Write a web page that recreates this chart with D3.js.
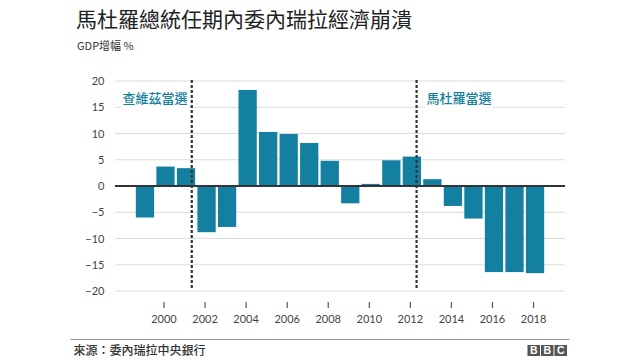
<!DOCTYPE html>
<html>
<head>
<meta charset="utf-8">
<script src="https://cdn.jsdelivr.net/npm/d3@7"></script>
<style>
  html, body { margin: 0; padding: 0; background: #fff; }
  svg { display: block; }
</style>
</head>
<body>
<svg id="chart" width="640" height="360"></svg>
<script>
// ---- data ----
const years = [1999, 2000, 2001, 2002, 2003, 2004, 2005, 2006, 2007, 2008,
               2009, 2010, 2011, 2012, 2013, 2014, 2015, 2016, 2017, 2018];
const gdpGrowth = [-6.0, 3.7, 3.4, -8.8, -7.8, 18.3, 10.3, 9.9, 8.2, 4.8,
                   -3.3, 0.4, 4.9, 5.6, 1.3, -3.8, -6.2, -16.4, -16.4, -16.6];
const yTicks = [20, 15, 10, 5, 0, -5, -10, -15, -20];
const xTickYears = [2000, 2002, 2004, 2006, 2008, 2010, 2012, 2014, 2016, 2018];
const markerYears = [2001.28, 2012.23];
const markerLabels = ["查維茲當選", "馬杜羅當選"];
const title = "馬杜羅總統任期內委內瑞拉經濟崩潰";
const subtitle = "GDP增幅 %";
const source = "來源：委內瑞拉中央銀行";

// ---- layout ----
const svg = d3.select("#chart");
const cjk = "'Noto Sans CJK TC', 'Noto Sans', sans-serif";
const num = "Lato, 'Open Sans', sans-serif";
const teal = "#1380A1";
const gridL = 115, gridR = 565;

const x = d3.scaleBand().domain(years).range([134.7, 545.3])
  .paddingInner(0.11).paddingOuter(0.055);
const y = d3.scaleLinear().domain([-20, 20]).range([291, 81]);
const xPos = d3.scaleLinear().domain([years[0], years[years.length - 1]])
  .range([x(years[0]) + x.bandwidth() / 2, x(years[years.length - 1]) + x.bandwidth() / 2]);

svg.append("rect").attr("width", 640).attr("height", 360).attr("fill", "#fff");

// title & subtitle
svg.append("text").attr("x", 76).attr("y", 27)
  .attr("font-family", cjk).attr("font-size", 21).attr("fill", "#222")
  .text(title);
svg.append("text").attr("x", 77).attr("y", 50)
  .attr("font-family", cjk).attr("font-size", 11).attr("fill", "#333")
  .text(subtitle);

// gridlines
svg.append("g").selectAll("line").data(yTicks.filter(d => d !== 0)).join("line")
  .attr("x1", gridL).attr("x2", gridR)
  .attr("y1", d => y(d)).attr("y2", d => y(d))
  .attr("stroke", "#dcdcdc").attr("stroke-width", 1);

// y axis labels
const yAxis = d3.axisLeft(y).tickValues(yTicks).tickSize(0).tickPadding(0)
  .tickFormat(d3.format("d"));
const yg = svg.append("g").attr("transform", "translate(104.5,0)").call(yAxis);
yg.select(".domain").remove();
yg.selectAll("text").attr("font-family", num).attr("font-size", 11).attr("fill", "#444");

// bars
svg.append("g").selectAll("rect").data(years).join("rect")
  .attr("x", d => x(d))
  .attr("width", x.bandwidth())
  .attr("y", (d, i) => y(Math.max(0, gdpGrowth[i])))
  .attr("height", (d, i) => Math.abs(y(gdpGrowth[i]) - y(0)))
  .attr("fill", teal);

// zero line
svg.append("line").attr("x1", gridL).attr("x2", gridR)
  .attr("y1", y(0)).attr("y2", y(0))
  .attr("stroke", "#333").attr("stroke-width", 2);

// marker lines
svg.append("g").selectAll("line").data(markerYears).join("line")
  .attr("x1", d => xPos(d)).attr("x2", d => xPos(d))
  .attr("y1", y(20) - 1).attr("y2", y(-20) - 1)
  .attr("stroke", "#333").attr("stroke-width", 2.2)
  .attr("stroke-dasharray", "3,2");

// marker labels with white background
const labelG = svg.append("g");
const labelX = [122.5, 426.5];
markerLabels.forEach((t, i) => {
  const g = labelG.append("g");
  const txt = g.append("text").attr("x", labelX[i]).attr("y", 102.5)
    .attr("font-family", cjk).attr("font-size", 13).attr("font-weight", 500)
    .attr("fill", teal).text(t);
  const bb = txt.node().getBBox();
  g.insert("rect", "text").attr("x", bb.x - 1).attr("y", 88)
    .attr("width", bb.width + 2).attr("height", 22).attr("fill", "#fff");
});

// x axis ticks
const xAxis = d3.axisBottom(xPos).tickValues(xTickYears).tickSize(6).tickPadding(7)
  .tickFormat(d3.format("d"));
const xg = svg.append("g").attr("transform", "translate(-2,302)").call(xAxis);
xg.select(".domain").remove();
xg.selectAll(".tick line").attr("stroke", "#555").attr("stroke-width", 1.2);
xg.selectAll("text").attr("font-family", num).attr("font-size", 11).attr("fill", "#444");

// footer
svg.append("line").attr("x1", 70.5).attr("x2", 569.5).attr("y1", 339.5).attr("y2", 339.5)
  .attr("stroke", "#999").attr("stroke-width", 1.2);
svg.append("text").attr("x", 73.5).attr("y", 355)
  .attr("font-family", cjk).attr("font-size", 12).attr("font-weight", 500).attr("fill", "#333")
  .text(source);

// BBC logo
const logo = svg.append("g").attr("transform", "translate(527.5,345)");
["B", "B", "C"].forEach((c, i) => {
  logo.append("rect").attr("x", i * 13.5).attr("y", 0).attr("width", 12.5).attr("height", 11)
    .attr("fill", "#555");
  logo.append("text").attr("x", i * 13.5 + 6.25).attr("y", 9.3)
    .attr("text-anchor", "middle").attr("font-family", "Liberation Sans, Arial, sans-serif")
    .attr("font-weight", "bold").attr("font-size", 10.5).attr("fill", "#fff").text(c);
});
</script>
</body>
</html>
